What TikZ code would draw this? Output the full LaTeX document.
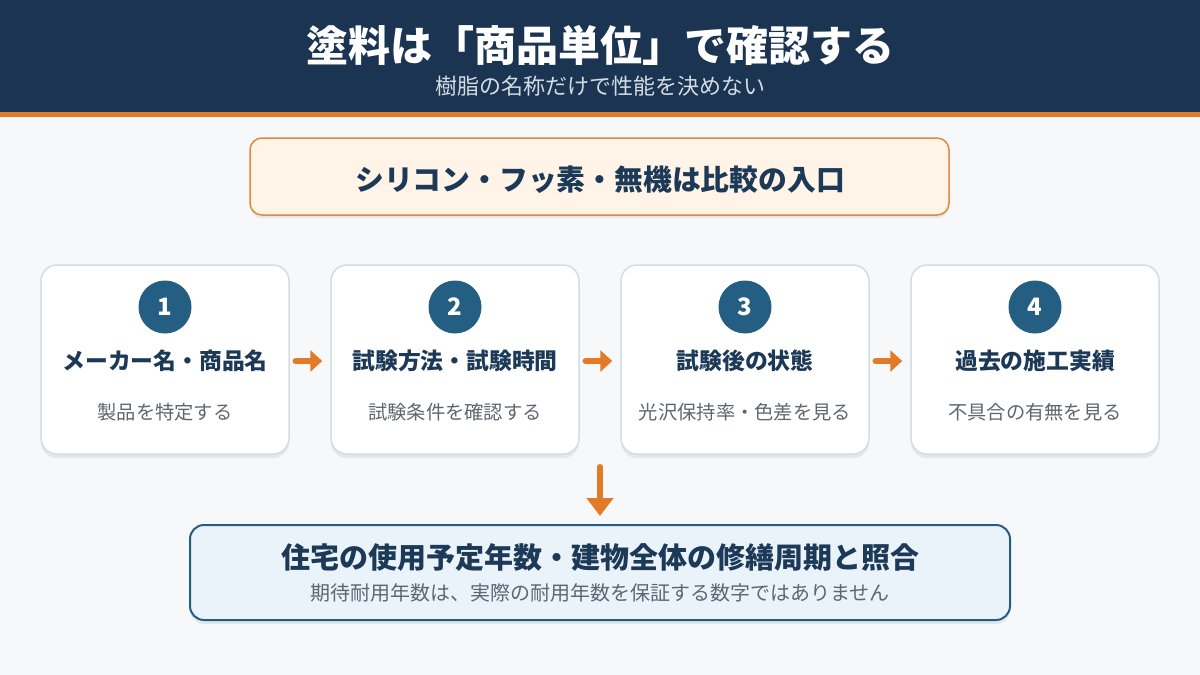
\documentclass[tikz,border=0pt]{standalone}
\usepackage{fontspec}
\setmainfont{Noto Sans CJK JP}
\usetikzlibrary{arrows.meta}
\definecolor{navy}{HTML}{1B3452}
\definecolor{orng}{HTML}{E27A27}
\definecolor{bg}{HTML}{F6F8FA}
\definecolor{dtext}{HTML}{1C3A57}
\definecolor{gtext}{HTML}{5E6770}
\definecolor{circ}{HTML}{245E82}
\definecolor{cardline}{HTML}{D3DDE3}
\definecolor{shadowc}{HTML}{E2E7EB}
\definecolor{topfill}{HTML}{FFF4E7}
\definecolor{topline}{HTML}{DE8A3E}
\definecolor{botfill}{HTML}{EAF3FA}
\definecolor{subw}{HTML}{D3DBE4}
\tikzset{
  card/.style={draw=cardline, line width=1.5pt, fill=white, rounded corners=16pt, minimum width=248pt, minimum height=189pt, inner sep=0pt},
  cardshadow/.style={fill=shadowc, rounded corners=16pt, minimum width=248pt, minimum height=189pt, inner sep=0pt},
  num/.style={circle, fill=circ, minimum size=53pt, inner sep=0pt, text=white, font=\fontsize{24}{28}\selectfont\bfseries},
  head/.style={text=dtext, font=\fontsize{22.8}{27}\selectfont\bfseries, inner sep=0pt},
  sub/.style={text=gtext, font=\fontsize{19.3}{23}\selectfont, inner sep=0pt},
  harrow/.style={draw=orng, line width=6.5pt, line cap=round, -{Triangle[length=12pt,width=21pt]}},
}
\begin{document}
\begin{tikzpicture}[x=1pt,y=-1pt]
\useasboundingbox (0,0) rectangle (1200,675);
\fill[bg] (0,0) rectangle (1200,675);
\fill[navy] (0,0) rectangle (1200,112);
\fill[orng] (0,112) rectangle (1200,117);
\node[text=white, font=\fontsize{42}{48}\selectfont\bfseries, inner sep=0pt] (title) at (600,45) {塗料は「商品単位」で確認する};
\node[text=subw, font=\fontsize{22}{26}\selectfont, inner sep=0pt] (subtitle) at (600,86) {樹脂の名称だけで性能を決めない};
% top box
\fill[shadowc, rounded corners=12pt] (250,141) rectangle (949,218);
\node[draw=topline, line width=1.5pt, fill=topfill, rounded corners=12pt, minimum width=699pt, minimum height=77pt, inner sep=0pt] (top) at (599.5,176.5) {};
\node[text=dtext, font=\fontsize{28.8}{33}\selectfont\bfseries, inner sep=0pt] (toptext) at (600,180) {シリコン・フッ素・無機は比較の入口};
% cards
\foreach \i/\x/\h/\s in {1/165/メーカー名・商品名/製品を特定する, 2/455/試験方法・試験時間/試験条件を確認する, 3/745/試験後の状態/光沢保持率・色差を見る, 4/1035/過去の施工実績/不具合の有無を見る}{
  \node[cardshadow] (cs\i) at (\x,363.5) {};
  \node[card] (c\i) at (\x,359.5) {};
  \node[num] (n\i) at (\x,307) {\i};
  \node[head] (h\i) at (\x,361) {\h};
  \node[sub] (s\i) at (\x,412) {\s};
}
\draw[harrow, shorten <=6pt, shorten >=8pt] (c1.east |- h1) -- (c2.west |- h1);
\draw[harrow, shorten <=6pt, shorten >=8pt] (c2.east |- h2) -- (c3.west |- h2);
\draw[harrow, shorten <=6pt, shorten >=8pt] (c3.east |- h3) -- (c4.west |- h3);
% bottom box
\fill[shadowc, rounded corners=14pt] (190,529) rectangle (1010,624);
\node[draw=circ, line width=2pt, fill=botfill, rounded corners=14pt, minimum width=820pt, minimum height=95pt, inner sep=0pt] (bot) at (600,572.5) {};
\node[text=dtext, font=\fontsize{29}{33}\selectfont\bfseries, inner sep=0pt] (bottitle) at (600,558) {住宅の使用予定年数・建物全体の修繕周期と照合};
\node[sub, font=\fontsize{20}{24}\selectfont] (botsub) at (600,593) {期待耐用年数は、実際の耐用年数を保証する数字ではありません};
\coordinate (dstart) at (600,467);
\draw[draw=orng, line width=6pt, line cap=round, -{Triangle[length=18pt,width=26pt]}, shorten >=8pt] (dstart) -- (bot.north);
\end{tikzpicture}
\end{document}
